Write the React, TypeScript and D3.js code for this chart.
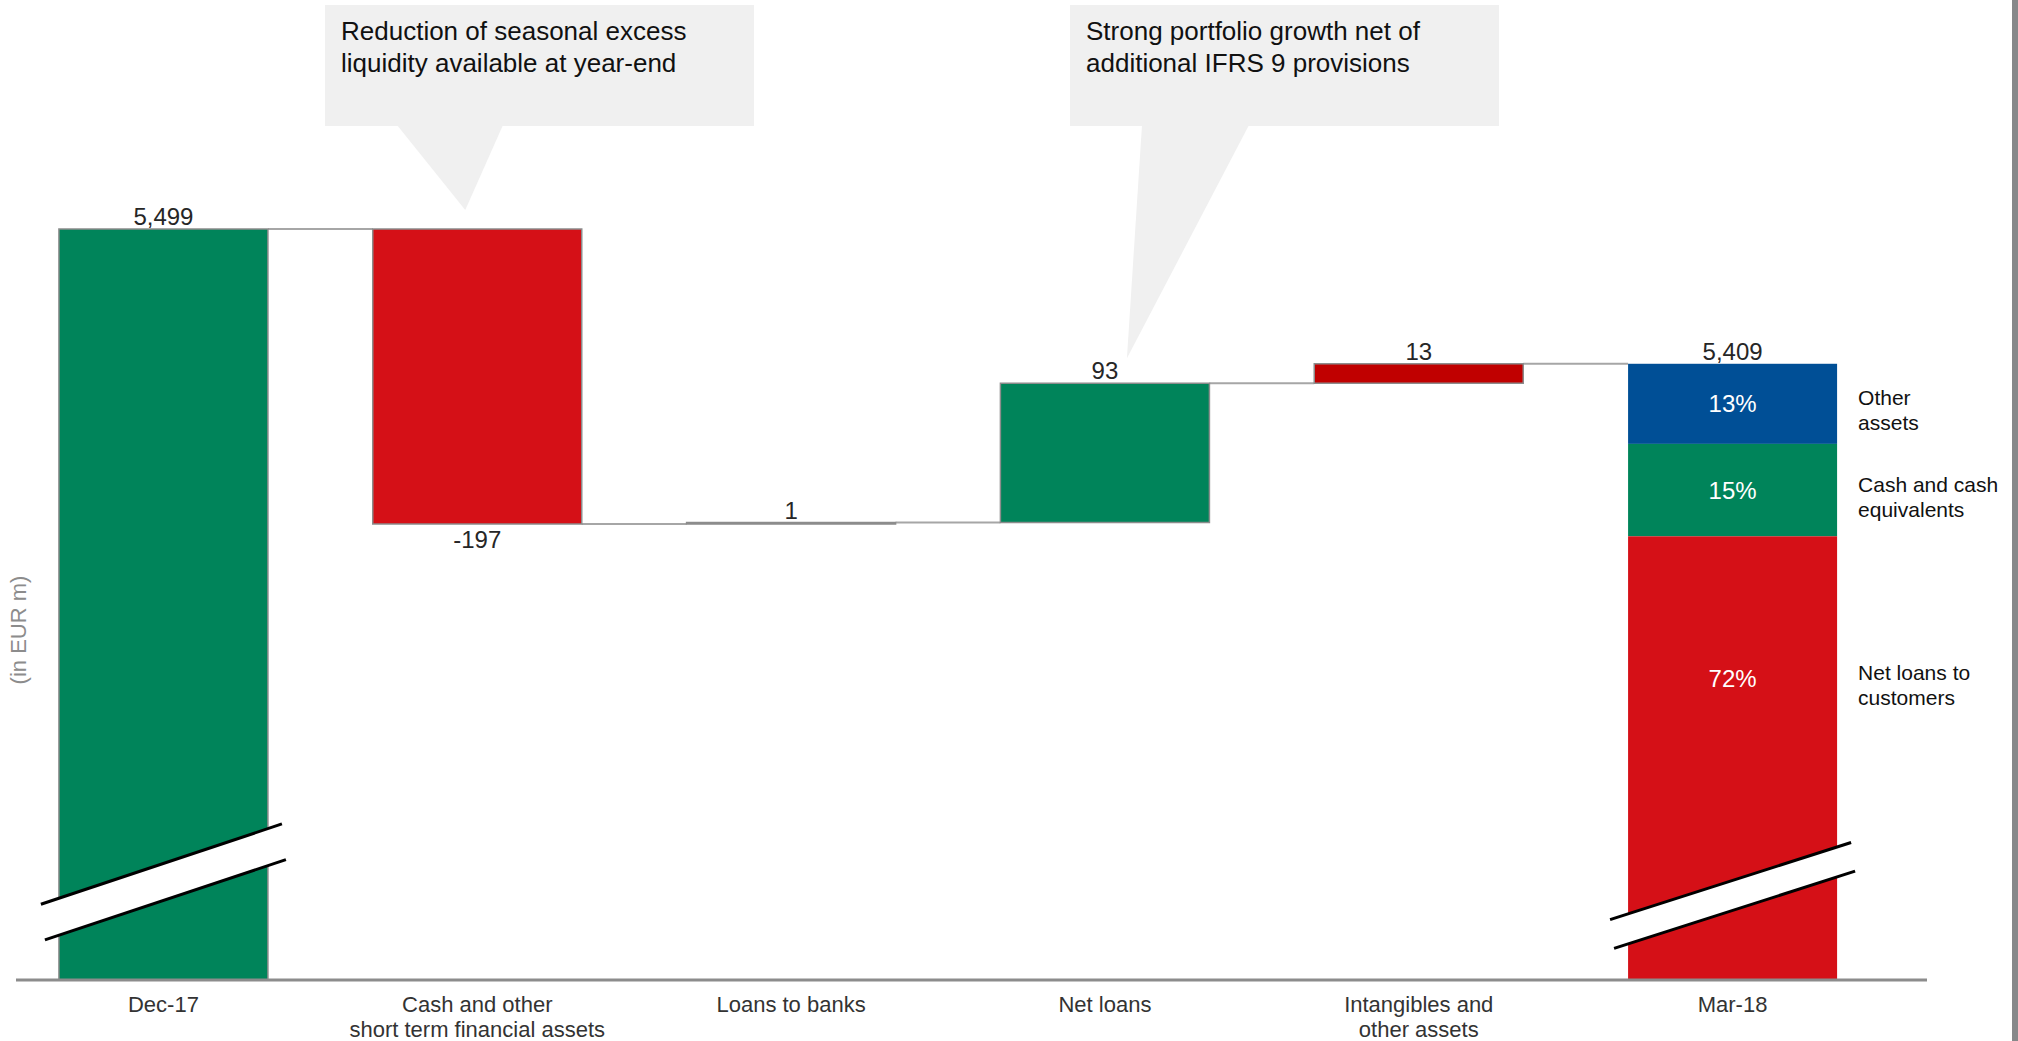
import React from "react";
import * as d3 from "d3";

// ---------- data ----------
const categories: string[][] = [
  ["Dec-17"],
  ["Cash and other", "short term financial assets"],
  ["Loans to banks"],
  ["Net loans"],
  ["Intangibles and", "other assets"],
  ["Mar-18"],
];
const stepKinds = ["total", "delta", "delta", "delta", "delta", "total"];
const stepValues = [5499, -197, 1, 93, 13, 5409];
const valueLabels = ["5,499", "-197", "1", "93", "13", "5,409"];

const axisFloor = 4997.5; // broken axis: bars of totals are cut
const axisTop = 5499;

const compositionNames: string[][] = [
  ["Other", "assets"],
  ["Cash and cash", "equivalents"],
  ["Net loans to", "customers"],
];
const compositionShares = [13, 15, 72];

const breakValues = [5063, 5054]; // where the total bars are broken
const yAxisTitle = "(in EUR m)";

const calloutTexts: string[][] = [
  ["Reduction of seasonal excess", "liquidity available at year-end"],
  ["Strong portfolio growth net of", "additional IFRS 9 provisions"],
];
const calloutTargets = [1, 3];

// ---------- style ----------
const W = 2018;
const H = 1041;
const GREEN = "#00845A";
const RED = "#D51017";
const DARKRED = "#C00000";
const BLUE = "#004F96";
const FONT = "'Liberation Sans', Arial, sans-serif";
const compColors = [BLUE, GREEN, RED];

export default function App() {
  const idx = categories.map((_, i) => i);
  const x = d3
    .scaleBand<number>()
    .domain(idx)
    .range([6.5, 1889.5])
    .paddingInner(0.334)
    .paddingOuter(0.167);
  const y = d3.scaleLinear().domain([axisFloor, axisTop]).range([980, 229]);
  const bw = x.bandwidth();

  // waterfall
  let running = 0;
  const bars = stepValues.map((v, i) => {
    if (stepKinds[i] === "total") {
      running = v;
      return { i, lo: axisFloor, hi: v, end: v, v };
    }
    const start = running;
    running = running + v;
    return { i, lo: Math.min(start, running), hi: Math.max(start, running), end: running, v };
  });

  const barColor = (b: any) => {
    if (b.i === 0) return GREEN;
    if (stepKinds[b.i] === "total") return RED;
    if (b.i === 4) return DARKRED;
    return b.v < 0 ? RED : GREEN;
  };

  // composition of last bar
  const last = bars[bars.length - 1];
  const lastTop = y(last.hi);
  const lastBottom = y(last.lo);
  const totalShare = d3.sum(compositionShares);
  let acc = lastTop;
  const segs = compositionShares.map((s, k) => {
    const h = ((lastBottom - lastTop) * s) / totalShare;
    const seg = { k, y0: acc, h };
    acc += h;
    return seg;
  });
  const labelFrac = [0.5, 0.5, 0.32];

  // break marks
  const totalIdx = idx.filter((i) => stepKinds[i] === "total");
  const breakGaps = [37, 30];
  const breakSlope = [-0.333, -0.32];

  const calloutBoxes = [
    { x0: 325, x1: 754, b0: 397, b1: 503, dx: -12, dy: -19 },
    { x0: 1070, x1: 1499, b0: 1142, b1: 1249, dx: 22, dy: -25 },
  ];

  return (
    <svg
      width={W}
      height={H}
      style={{ position: "absolute", left: 0, top: 0, background: "#fff" }}
      fontFamily={FONT}
    >
      <rect x={0} y={0} width={W} height={H} fill="#fff" />

      {/* callouts */}
      {calloutTexts.map((lines, c) => {
        const box = calloutBoxes[c];
        const t = calloutTargets[c];
        const tipX = (x(t) as number) + bw / 2 + box.dx;
        const tipY = y(bars[t].hi) + box.dy;
        return (
          <g key={"c" + c}>
            <rect x={box.x0} y={5} width={box.x1 - box.x0} height={121} fill="#F0F0F0" />
            <polygon
              points={`${box.b0},125 ${box.b1},125 ${tipX},${tipY}`}
              fill="#F0F0F0"
            />
            {lines.map((ln, j) => (
              <text key={j} x={box.x0 + 16} y={40 + j * 32} fontSize={26} fill="#111">
                {ln}
              </text>
            ))}
          </g>
        );
      })}

      {/* connectors */}
      {bars.slice(0, -1).map((b, i) => {
        const xa = (x(i) as number) + bw;
        const xb = x(i + 1) as number;
        return (
          <line
            key={"k" + i}
            x1={xa}
            x2={xb}
            y1={y(b.end)}
            y2={y(b.end)}
            stroke="#A6A6A6"
            strokeWidth={2}
          />
        );
      })}

      {/* bars */}
      {bars.map((b) => {
        const bx = x(b.i) as number;
        const top = y(b.hi);
        const h = Math.max(1.5, y(b.lo) - top);
        if (b.i === bars.length - 1) {
          return (
            <g key={"b" + b.i}>
              {segs.map((s) => (
                <rect
                  key={s.k}
                  x={bx}
                  y={s.y0}
                  width={bw}
                  height={s.h}
                  fill={compColors[s.k]}
                />
              ))}
            </g>
          );
        }
        return (
          <rect
            key={"b" + b.i}
            x={bx}
            y={top}
            width={bw}
            height={h}
            fill={b.i === 2 ? "#7F7F7F" : barColor(b)}
            stroke="#8C8C8C"
            strokeWidth={1.5}
          />
        );
      })}

      {/* break marks */}
      {totalIdx.map((i, n) => {
        const bx = x(i) as number;
        const xl = bx - 18;
        const xr = bx + bw + 14;
        const cx = bx + bw / 2;
        const cy = y(breakValues[n]);
        const g = breakGaps[n] / 2;
        const s = breakSlope[n];
        const yAt = (xx: number, off: number) => cy + off + s * (xx - cx);
        return (
          <g key={"br" + i}>
            <polygon
              points={`${xl},${yAt(xl, -g)} ${xr},${yAt(xr, -g)} ${xr},${yAt(xr, g)} ${xl},${yAt(xl, g)}`}
              fill="#fff"
            />
            <line x1={xl} y1={yAt(xl, -g)} x2={xr} y2={yAt(xr, -g)} stroke="#000" strokeWidth={3} />
            <line x1={xl + 4} y1={yAt(xl + 4, g)} x2={xr + 4} y2={yAt(xr + 4, g)} stroke="#000" strokeWidth={3} />
          </g>
        );
      })}

      {/* value labels */}
      {bars.map((b) => {
        const cx = (x(b.i) as number) + bw / 2;
        const neg = stepKinds[b.i] === "delta" && b.v < 0;
        const ty = neg ? y(b.lo) + 24 : y(b.hi) - 4;
        return (
          <text
            key={"v" + b.i}
            x={cx}
            y={ty}
            textAnchor="middle"
            fontSize={24}
            fill="#262626"
          >
            {valueLabels[b.i]}
          </text>
        );
      })}

      {/* composition labels */}
      {segs.map((s) => {
        const cx = (x(last.i) as number) + bw / 2;
        const ly = s.y0 + s.h * labelFrac[s.k] + 8.5;
        return (
          <g key={"p" + s.k}>
            <text x={cx} y={ly} textAnchor="middle" fontSize={24} fill="#fff">
              {compositionShares[s.k] + "%"}
            </text>
            {compositionNames[s.k].map((ln, j) => (
              <text
                key={j}
                x={(x(last.i) as number) + bw + 21}
                y={ly - 7 + j * 25}
                fontSize={21}
                fill="#111"
              >
                {ln}
              </text>
            ))}
          </g>
        );
      })}

      {/* baseline */}
      <line x1={16} x2={1927} y1={980} y2={980} stroke="#8C8C8C" strokeWidth={3} />

      {/* x labels */}
      {categories.map((lines, i) => (
        <text
          key={"x" + i}
          x={(x(i) as number) + bw / 2}
          textAnchor="middle"
          fontSize={22}
          fill="#333"
        >
          {lines.map((ln, j) => (
            <tspan key={j} x={(x(i) as number) + bw / 2} y={1012 + j * 25}>
              {ln}
            </tspan>
          ))}
        </text>
      ))}

      {/* y title */}
      <text
        transform={`translate(26,630) rotate(-90)`}
        textAnchor="middle"
        fontSize={22}
        fill="#8C8C8C"
      >
        {yAxisTitle}
      </text>

      {/* right border */}
      <rect x={2012} y={0} width={6} height={H} fill="#87888A" />
    </svg>
  );
}
